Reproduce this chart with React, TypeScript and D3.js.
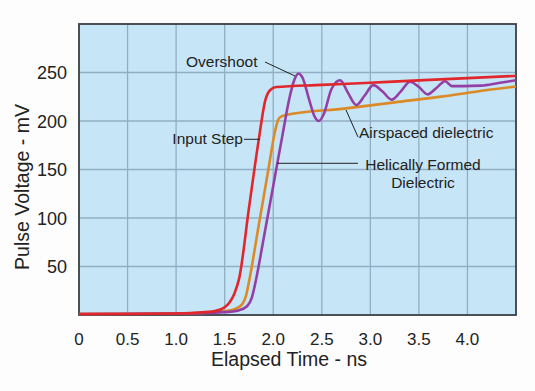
import React, { useEffect } from 'react';
import * as d3 from 'd3';

// elapsed time (ns) / pulse voltage (mV)
const inputStepT = [0, 0.5, 1.0, 1.3, 1.4, 1.5, 1.55, 1.6, 1.65, 1.75, 1.85, 1.92, 1.97, 2.03, 2.5, 3.0, 3.5, 4.0, 4.5];
const inputStepV = [1, 1, 1.5, 3, 4, 8, 13, 22, 38, 110, 180, 222, 232, 235, 237.2, 239.5, 241.9, 244.2, 246.5];

const helicalT = [0, 1.0, 1.4, 1.6, 1.68, 1.72, 1.75, 1.85, 1.95, 2.02, 2.06, 2.12, 2.75, 3.25, 3.75, 4.1, 4.5];
const helicalV = [1, 1.5, 3, 6, 11, 20, 34, 92, 150, 190, 203, 206, 213, 219.2, 225.4, 230.5, 235.5];

const airT = [0, 1.0, 1.5, 1.65, 1.73, 1.78, 1.82, 1.9, 2.0, 2.1, 2.17, 2.22, 2.26, 2.3, 2.37, 2.42, 2.47, 2.52, 2.6, 2.69,
  2.77, 2.856, 2.94, 3.03, 3.12, 3.22, 3.31, 3.41, 3.5, 3.59, 3.68, 3.77, 3.84, 3.95, 4.14, 4.32, 4.5];
const airV = [1, 1.5, 3, 5, 9, 18, 35, 78, 133, 188, 225, 243, 249, 245, 222, 206, 200, 207, 233, 242,
  229, 216.5, 226, 237, 231, 222, 230, 240.5, 235, 227.5, 234, 241, 236, 236, 236.5, 239.2, 242];

const xTicks = [0, 0.5, 1.0, 1.5, 2.0, 2.5, 3.0, 3.5, 4.0];
const xTickLabels = ['0', '0.5', '1.0', '1.5', '2.0', '2.5', '3.0', '3.5', '4.0'];
const xGrid = [0.5, 1.0, 1.5, 2.0, 2.5, 3.0, 3.5, 4.0];
const yTicks = [50, 100, 150, 200, 250];
const yGrid = [50, 100, 150, 200, 250];

const font = 'Liberation Sans, Arial, Helvetica, sans-serif';

export default function App() {
  useEffect(() => {
    document.body.style.margin = '0';
  }, []);

  const width = 535;
  const height = 391;

  const x = d3.scaleLinear().domain([0, 4.5]).range([79, 516]);
  const y = d3.scaleLinear().domain([0, 300]).range([315, 24]);

  const makePath = (ts: number[], vs: number[]) =>
    d3.line<number>()
      .x(i => x(ts[i]))
      .y(i => y(vs[i]))
      .curve(d3.curveMonotoneX)(d3.range(ts.length)) || '';

  const series = [
    { name: 'helical', t: helicalT, v: helicalV, color: '#dc8a25' },
    { name: 'air', t: airT, v: airV, color: '#933fa6' },
    { name: 'input', t: inputStepT, v: inputStepV, color: '#e1272b' },
  ];

  const annStyle = { fontFamily: font, fontSize: 15.5, fill: '#222' };

  return (
    <svg width={width} height={height} style={{ display: 'block', background: '#fdfdfd' }}>
      <rect x={x(0)} y={y(300)} width={x(4.5) - x(0)} height={y(0) - y(300)} fill="#c6e5f7" />
      {xGrid.map(t => (
        <line key={'gx' + t} x1={x(t)} x2={x(t)} y1={y(300)} y2={y(0)} stroke="#93aec2" strokeWidth={1.3} />
      ))}
      {yGrid.map(v => (
        <line key={'gy' + v} x1={x(0)} x2={x(4.5)} y1={y(v)} y2={y(v)} stroke="#93aec2" strokeWidth={1.3} />
      ))}
      <rect x={x(0)} y={y(300)} width={x(4.5) - x(0)} height={y(0) - y(300)} fill="none" stroke="#3a3f44" strokeWidth={1.8} />

      {series.map(s => (
        <path key={s.name} d={makePath(s.t, s.v)} fill="none" stroke={s.color} strokeWidth={2.6} strokeLinejoin="round" />
      ))}

      {/* annotations */}
      <line x1={265} y1={62} x2={295} y2={76} stroke="#222" strokeWidth={1} />
      <text x={186} y={66.5} {...annStyle}>Overshoot</text>

      <line x1={244} y1={139.3} x2={260} y2={139.3} stroke="#222" strokeWidth={1} />
      <text x={243} y={144} textAnchor="end" {...annStyle}>Input Step</text>

      <line x1={358} y1={137} x2={346} y2={110} stroke="#222" strokeWidth={1} />
      <text x={359} y={138} {...annStyle}>Airspaced dielectric</text>

      <line x1={277} y1={163.3} x2={358} y2={163.3} stroke="#222" strokeWidth={1} />
      <text x={423} y={169.5} textAnchor="middle" {...annStyle}>Helically Formed</text>
      <text x={423} y={188} textAnchor="middle" {...annStyle}>Dielectric</text>

      {/* axes labels */}
      {xTicks.map((t, i) => (
        <text key={'xt' + t} x={x(t)} y={345} textAnchor="middle" fontFamily={font} fontSize={17} fill="#222">
          {xTickLabels[i]}
        </text>
      ))}
      {yTicks.map(v => (
        <text key={'yt' + v} x={67} y={y(v) + 6.5} textAnchor="end" fontFamily={font} fontSize={18} fill="#222">
          {v}
        </text>
      ))}
      <text x={289} y={366} textAnchor="middle" fontFamily={font} fontSize={19.5} fill="#222">Elapsed Time - ns</text>
      <text transform={`translate(29, 187) rotate(-90)`} textAnchor="middle" fontFamily={font} fontSize={19.5} fill="#222">
        Pulse Voltage - mV
      </text>
    </svg>
  );
}
